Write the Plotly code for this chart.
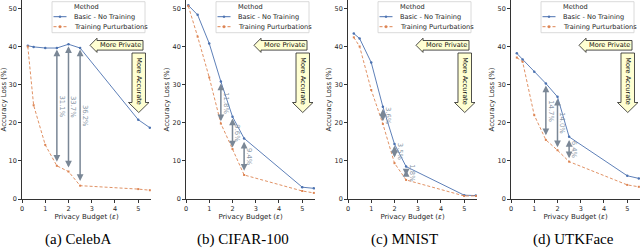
import plotly.graph_objects as go

# ---------------- data ----------------
eps = [0.25, 0.5, 1, 1.5, 2, 2.5, 5, 5.5]
eps_cifar = [0.1, 0.5, 1, 1.5, 2, 2.5, 5, 5.5]

celeba_basic = [40.2, 39.9, 39.6, 39.6, 40.6, 39.6, 20.8, 18.7]
celeba_train = [40.0, 24.6, 14.2, 8.7, 7.2, 3.5, 2.6, 2.3]
cifar_basic = [50.8, 48.3, 40.8, 30.8, 21.6, 15.9, 3.1, 2.8]
cifar_train = [50.6, 42.6, 31.9, 19.8, 13.1, 6.3, 2.1, 1.6]
mnist_basic = [43.4, 42.1, 35.8, 24.2, 14.4, 8.5, 1.0, 0.9]
mnist_train = [42.4, 40.0, 28.6, 19.7, 9.4, 5.0, 0.8, 0.8]
utk_basic = [38.2, 36.6, 33.4, 30.3, 26.8, 16.3, 6.1, 5.4]
utk_train = [37.1, 36.0, 22.0, 15.5, 12.8, 9.8, 3.7, 3.2]

gap_eps = [1.5, 2, 2.5]
celeba_gap_low = [9.4, 7.9, 4.3]
celeba_gap_high = [39.2, 40.1, 39.2]
celeba_gap_labels = ["31.1%", "33.7%", "36.2%"]
cifar_gap_low = [20.0, 13.1, 7.0]
cifar_gap_high = [30.3, 21.1, 15.0]
cifar_gap_labels = ["11.8%", "9.6%", "9.4%"]
mnist_gap_low = [20.0, 10.5, 5.8]
mnist_gap_high = [23.6, 14.0, 7.6]
mnist_gap_labels = ["3.6%", "3.5%", "1.8%"]
utk_gap_low = [16.3, 13.2, 10.3]
utk_gap_high = [29.8, 26.3, 15.5]
utk_gap_labels = ["14.7%", "14.0%", "6.4%"]

captions = ["(a) CelebA", "(b) CIFAR-100", "(c) MNIST", "(d) UTKFace"]
series_names = ["Basic - No Training", "Training Purturbations"]
legend_title = "Method"
x_ticks = [0, 1, 2, 3, 4, 5]
y_ticks = [0, 10, 20, 30, 40, 50]

panels = [
    (eps, celeba_basic, celeba_train, celeba_gap_low, celeba_gap_high, celeba_gap_labels),
    (eps_cifar, cifar_basic, cifar_train, cifar_gap_low, cifar_gap_high, cifar_gap_labels),
    (eps, mnist_basic, mnist_train, mnist_gap_low, mnist_gap_high, mnist_gap_labels),
    (eps, utk_basic, utk_train, utk_gap_low, utk_gap_high, utk_gap_labels),
]

# ---------------- style / layout ----------------
W, H = 640, 248
BLUE = "#4c72b0"
ORANGE = "#dd8452"
GAP = "#7a8796"
GAP_TXT = "#8795a6"
TXT = "#262626"
FONT = "DejaVu Sans"
LEFTS = [22, 186, 348, 511]
PW = 129
PB = 199
CAP_X = [78, 243, 404, 573]
DASH = "3px,2px"


def px(x):
    return x / W


def py(y):
    return 1 - y / H


def pt(x, y):
    return f"{px(x):.5f},{py(y):.5f}"


fig = go.Figure()
shapes = []
annots = []

for i, (xs, basic, train, glow, ghigh, glab) in enumerate(panels):
    n = "" if i == 0 else str(i + 1)
    xr, yr = "x" + n, "y" + n
    L = LEFTS[i]

    fig.add_trace(go.Scatter(x=xs, y=basic, mode="lines+markers", name=series_names[0],
                             line=dict(color=BLUE, width=0.9), marker=dict(size=2.5, color=BLUE),
                             xaxis=xr, yaxis=yr, showlegend=False))
    fig.add_trace(go.Scatter(x=xs, y=train, mode="lines+markers", name=series_names[1],
                             line=dict(color=ORANGE, width=0.9, dash=DASH),
                             marker=dict(size=2, color=ORANGE, symbol="square"),
                             xaxis=xr, yaxis=yr, showlegend=False))

    fig.update_layout(**{
        "xaxis" + n: dict(domain=[px(L), px(L + PW)], range=[0, 5.55], anchor=yr,
                          automargin=False,
                          tickvals=x_ticks, ticks="outside", ticklen=3, tickwidth=0.8,
                          tickcolor="#333", showline=True, linecolor="#333", linewidth=0.8,
                          showgrid=False, zeroline=False,
                          tickfont=dict(family=FONT, size=6.5, color=TXT),
                          title=dict(text="Privacy Budget (<i>ε</i>)", standoff=2,
                                     font=dict(family=FONT, size=7, color=TXT))),
        "yaxis" + n: dict(domain=[py(PB), 1], range=[0, 52.2], anchor=xr,
                          automargin=False,
                          tickvals=y_ticks, ticks="outside", ticklen=3, tickwidth=0.8,
                          tickcolor="#333", showline=True, linecolor="#333", linewidth=0.8,
                          showgrid=False, zeroline=False,
                          tickfont=dict(family=FONT, size=6.5, color=TXT),
                          title=dict(text="Accuracy Loss (%)", standoff=2,
                                     font=dict(family=FONT, size=7, color=TXT))),
    })

    # gap arrows with labels
    for e, lo, hi, lab in zip(gap_eps, glow, ghigh, glab):
        annots.append(dict(x=e, y=hi, ax=e, ay=lo, xref=xr, yref=yr, axref=xr, ayref=yr,
                           text="", showarrow=True, arrowhead=2, startarrowhead=2,
                           arrowside="end+start", arrowsize=0.9, arrowwidth=1.5,
                           arrowcolor=GAP, standoff=0, startstandoff=0))
        annots.append(dict(x=e, y=(lo + hi) / 2, xref=xr, yref=yr, text=lab, showarrow=False,
                           xanchor="center", yanchor="middle",
                           textangle=90, xshift=5, font=dict(family=FONT, size=6.8, color=GAP_TXT)))

    # legend box (manual, compact)
    bx0, bx1, by0, by1 = L + 30, L + 123, 1.7, 32.7
    shapes.append(dict(type="rect", xref="paper", yref="paper", x0=px(bx0), x1=px(bx1),
                       y0=py(by1), y1=py(by0), line=dict(color="#d0d0d0", width=0.8),
                       fillcolor="rgba(255,255,255,0.85)", layer="above"))
    annots.append(dict(x=px(L + 50), y=py(6.9), xref="paper", yref="paper", text=legend_title,
                       showarrow=False, xanchor="left", yanchor="middle",
                       font=dict(family=FONT, size=6.6, color=TXT)))
    for k, (col, nm) in enumerate([(BLUE, series_names[0]), (ORANGE, series_names[1])]):
        yy = 16.7 + 10 * k
        shapes.append(dict(type="line", xref="paper", yref="paper", x0=px(L + 31.5), x1=px(L + 44.5),
                           y0=py(yy), y1=py(yy),
                           line=dict(color=col, width=1, dash=DASH if k else "solid"),
                           layer="above"))
        shapes.append(dict(type="circle" if k == 0 else "rect", xref="paper", yref="paper",
                           x0=px(L + 37), x1=px(L + 39), y0=py(yy + 1), y1=py(yy - 1),
                           line=dict(color=col, width=0.5), fillcolor=col, layer="above"))
        annots.append(dict(x=px(L + 50), y=py(yy), xref="paper", yref="paper", text=nm,
                           showarrow=False, xanchor="left", yanchor="middle",
                           font=dict(family=FONT, size=6.6, color=TXT)))

    # "More Private" left arrow
    path = "M " + " L ".join([pt(L + 68, 45.3), pt(L + 75, 38.2), pt(L + 75, 40.5), pt(L + 121, 40.5),
                              pt(L + 121, 50.1), pt(L + 75, 50.1), pt(L + 75, 52.4)]) + " Z"
    shapes.append(dict(type="path", xref="paper", yref="paper", path=path,
                       fillcolor="#ffffd2", line=dict(color="#222", width=0.8), layer="above"))
    annots.append(dict(x=px(L + 98), y=py(45.4), xref="paper", yref="paper", text="More Private",
                       showarrow=False, xanchor="center", yanchor="middle",
                       font=dict(family=FONT, size=6.6, color="#111")))
    # "More Accurate" down arrow
    path = "M " + " L ".join([pt(L + 110, 53), pt(L + 123.5, 53), pt(L + 123.5, 102.5),
                              pt(L + 127, 102.5), pt(L + 116.75, 112.5), pt(L + 106.5, 102.5),
                              pt(L + 110, 102.5)]) + " Z"
    shapes.append(dict(type="path", xref="paper", yref="paper", path=path,
                       fillcolor="#ffffd2", line=dict(color="#222", width=0.8), layer="above"))
    annots.append(dict(x=px(L + 116.75), y=py(81), xref="paper", yref="paper", text="More Accurate",
                       showarrow=False, textangle=90, xanchor="center", yanchor="middle",
                       font=dict(family=FONT, size=6.6, color="#111")))

    # caption
    annots.append(dict(x=px(CAP_X[i]), y=py(239.5), xref="paper", yref="paper", text=captions[i],
                       showarrow=False, xanchor="center", yanchor="middle",
                       font=dict(family="Liberation Serif", size=15, color="#000")))

fig.update_layout(width=W, height=H, margin=dict(l=0, r=0, t=0, b=0, autoexpand=False),
                  paper_bgcolor="white", plot_bgcolor="white", showlegend=False,
                  shapes=shapes, annotations=annots)

fig.write_html("out.html", config={"displayModeBar": False},
               post_script="document.body.style.margin='0px';")
